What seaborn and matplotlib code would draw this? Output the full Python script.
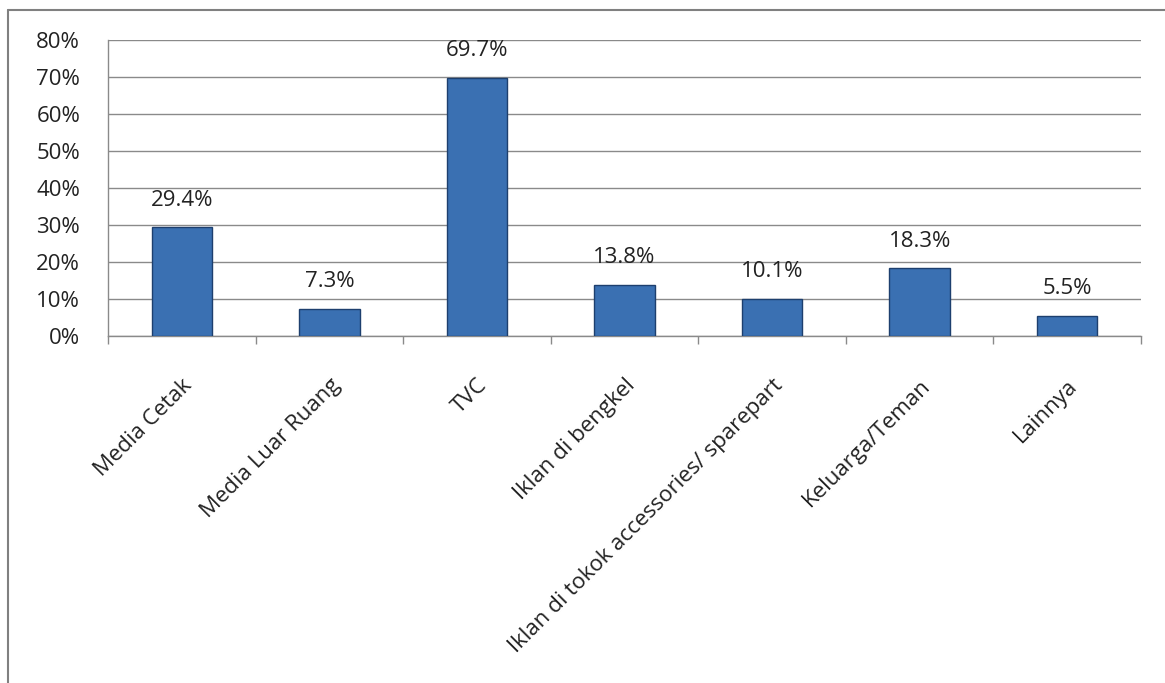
import matplotlib
matplotlib.use("Agg")
import matplotlib.pyplot as plt
import matplotlib.transforms as mtransforms
import seaborn as sns
import pandas as pd
from matplotlib.lines import Line2D
from matplotlib.ticker import FixedLocator, PercentFormatter

# data
categories = ["Media Cetak", "Media Luar Ruang", "TVC", "Iklan di bengkel",
              "Iklan di tokok accessories/ sparepart", "Keluarga/Teman", "Lainnya"]
values = [29.4, 7.3, 69.7, 13.8, 10.1, 18.3, 5.5]
y_ticks = [0, 10, 20, 30, 40, 50, 60, 70, 80]

df = pd.DataFrame({"cat": categories, "val": values})

sns.set_style("white")
plt.rcParams["font.family"] = ["Open Sans", "DejaVu Sans"]

fig = plt.figure(figsize=(11.65, 6.83), dpi=100)
ax = fig.add_axes([0.0927, 0.508, 0.8867, 0.4335])

sns.barplot(data=df, x="cat", y="val", color="#3a70b2", width=0.41,
            edgecolor="#1d3f6e", linewidth=1.0, saturation=1, ax=ax, zorder=3)

ax.set_ylim(0, 80)
ax.set_xlim(-0.5, len(categories) - 0.5)
ax.yaxis.set_major_locator(FixedLocator(y_ticks))
ax.yaxis.set_major_formatter(PercentFormatter(decimals=0))
ax.yaxis.grid(True, color="#8a8a8a", linewidth=1.0, zorder=0)
ax.set_axisbelow(True)

# category labels, rotated, ending just below the axis
ax.set_xticks(range(len(categories)))
ax.set_xticklabels(categories, rotation=45, ha="right", rotation_mode="anchor",
                   fontsize=16, color="#222222")
shift = mtransforms.ScaledTranslation(5 / 100, 0, fig.dpi_scale_trans)
for lab in ax.get_xticklabels():
    lab.set_transform(lab.get_transform() + shift)

# category boundary ticks on the x axis
ax.xaxis.set_minor_locator(FixedLocator([i - 0.5 for i in range(len(categories) + 1)]))
ax.tick_params(axis="x", which="major", length=0, pad=28)
ax.tick_params(axis="x", which="minor", length=6, width=1, color="#8a8a8a",
               direction="out", bottom=True)
ax.tick_params(axis="y", length=8, width=1, color="#8a8a8a", labelsize=16,
               labelcolor="#222222", pad=12, direction="out")

for s in ["top", "right"]:
    ax.spines[s].set_visible(False)
for s in ["left", "bottom"]:
    ax.spines[s].set_color("#8a8a8a")
    ax.spines[s].set_linewidth(1.0)

ax.set_xlabel("")
ax.set_ylabel("")

for i, v in enumerate(values):
    ax.annotate(f"{v:.1f}%", (i, v), xytext=(0, 12), textcoords="offset points",
                ha="center", va="bottom", fontsize=16, color="#222222")

# frame of the chart area (top and left edges)
fig.add_artist(Line2D([0.007, 1.0], [0.985, 0.985], color="#808080", linewidth=1.5,
                      transform=fig.transFigure))
fig.add_artist(Line2D([0.007, 0.007], [0.0, 0.985], color="#808080", linewidth=1.5,
                      transform=fig.transFigure))

fig.savefig("out.png", dpi=100)
